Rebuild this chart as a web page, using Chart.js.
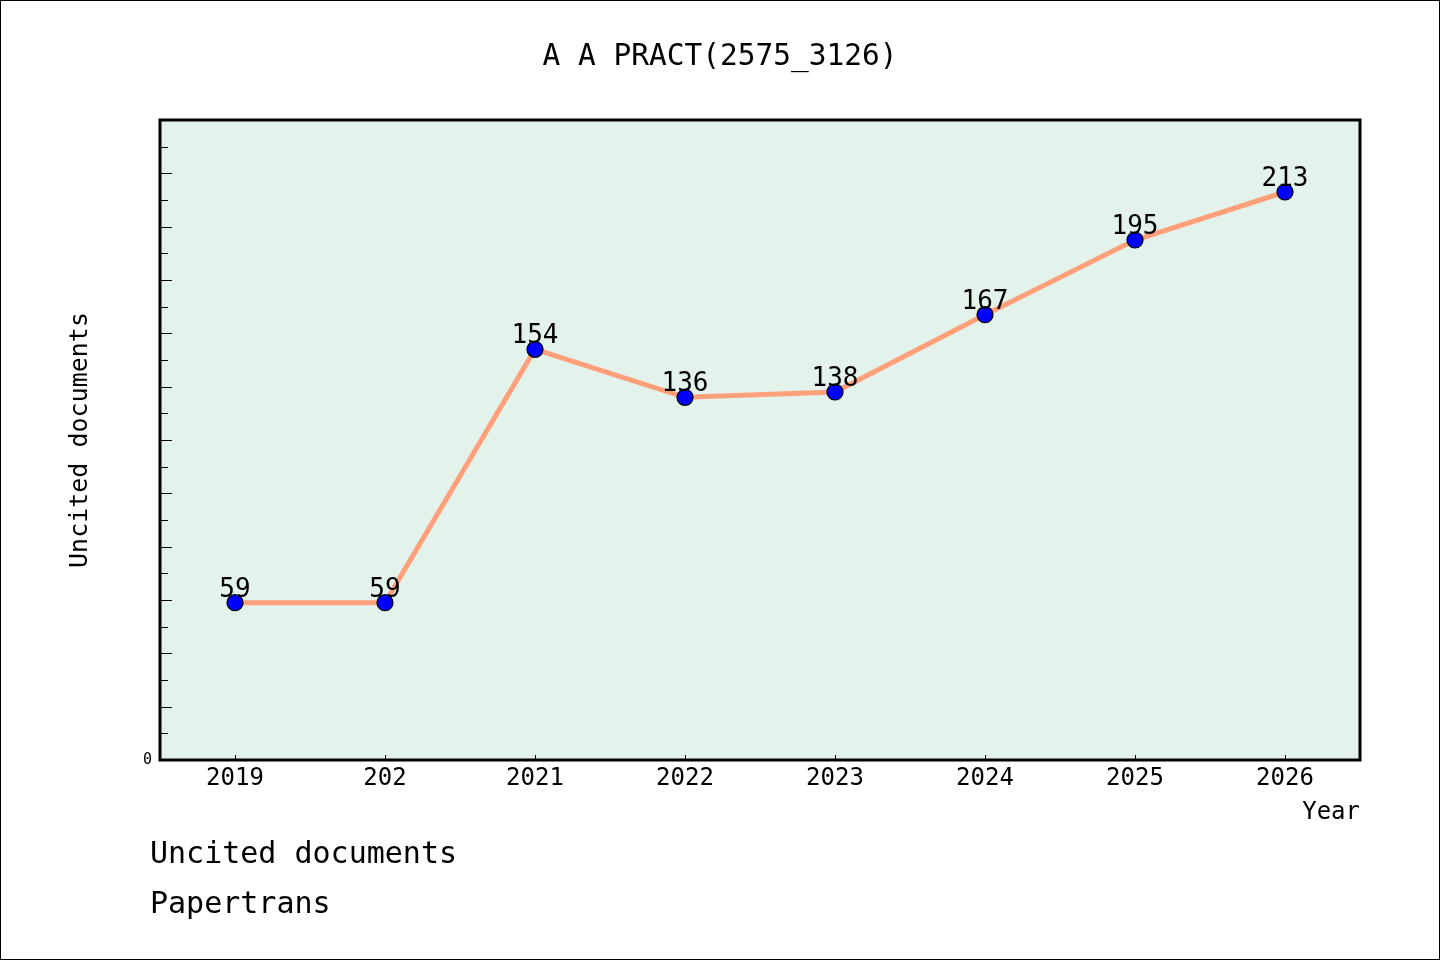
<!DOCTYPE html>
<html>
<head>
<meta charset="utf-8">
<script src="https://cdn.jsdelivr.net/npm/chart.js@4.4.1/dist/chart.umd.min.js"></script>
<style>
  html, body { margin:0; padding:0; background:#fff; }
  #wrap { position:relative; width:1440px; height:960px; }
  .note { position:absolute; left:150px; font-family:"DejaVu Sans Mono", monospace; font-size:30px; color:#000; line-height:36px; }
</style>
</head>
<body>
<div id="wrap">
  <canvas id="line-chart1" width="1440" height="960"></canvas>
  <div class="note" style="top:835px;">Uncited documents</div>
  <div class="note" style="top:885px;">Papertrans</div>
</div>
<script>
const years = ['2019', '202', '2021', '2022', '2023', '2024', '2025', '2026'];
const uncited = [59, 59, 154, 136, 138, 167, 195, 213];
const yMinorTicks = [10,20,30,40,50,60,70,80,90,100,110,120,130,140,150,160,170,180,190,200,210,220,230];

const MONO = '"DejaVu Sans Mono", monospace';

// plot background, frame, inward ticks, value labels
const decor = {
  id: 'decor',
  beforeDraw(chart) {
    const {ctx, chartArea: a} = chart;
    ctx.save();
    ctx.fillStyle = '#E3F2EB';
    ctx.fillRect(a.left, a.top, a.right - a.left, a.bottom - a.top);
    ctx.restore();
  },
  afterDatasetsDraw(chart) {
    const {ctx} = chart;
    const meta = chart.getDatasetMeta(0);
    ctx.save();
    ctx.font = '26px ' + MONO;
    ctx.fillStyle = '#000';
    ctx.textAlign = 'center';
    ctx.textBaseline = 'alphabetic';
    meta.data.forEach((pt, i) => {
      ctx.fillText(String(uncited[i]), pt.x, pt.y - 6);
    });
    ctx.restore();
  },
  afterDraw(chart) {
    const {ctx, chartArea: a} = chart;
    const ys = chart.scales.y, xs = chart.scales.x;
    ctx.save();
    ctx.strokeStyle = '#000';
    ctx.lineWidth = 1;
    ctx.beginPath();
    yMinorTicks.forEach(v => {
      const py = Math.round(ys.getPixelForValue(v)) + 0.5;
      const len = v % 20 === 0 ? 12 : 8;
      ctx.moveTo(a.left, py);
      ctx.lineTo(a.left + len, py);
    });
    years.forEach((c, i) => {
      const px = Math.round(xs.getPixelForValue(i)) + 0.5;
      ctx.moveTo(px, a.bottom);
      ctx.lineTo(px, a.bottom - 5);
    });
    ctx.stroke();
    ctx.lineWidth = 3;
    ctx.strokeRect(a.left, a.top, a.right - a.left, a.bottom - a.top);
    ctx.lineWidth = 1;
    ctx.strokeRect(0.5, 0.5, chart.width - 1, chart.height - 1);
    ctx.restore();
  }
};

let lineChart1 = document.getElementById('line-chart1');
let myLineChart1 = new Chart(lineChart1, {
  type: 'line',
  data: {
    labels: years,
    datasets: [{
      label: 'Uncited documents',
      data: uncited,
      borderColor: '#FFA07A',
      backgroundColor: '#0000FF',
      borderWidth: 5,
      pointRadius: 8,
      pointBackgroundColor: '#0000FF',
      pointBorderColor: '#000',
      pointBorderWidth: 1.2,
      tension: 0
    }]
  },
  options: {
    responsive: false,
    animation: false,
    devicePixelRatio: 1,
    layout: { padding: 0 },
    plugins: {
      legend: { display: false },
      tooltip: { enabled: false },
      title: {
        display: true,
        text: 'A A PRACT(2575_3126)',
        color: '#000',
        font: { family: MONO, size: 29.5, weight: 'normal', lineHeight: 1.2 },
        padding: { top: 40, bottom: 44.6 }
      }
    },
    scales: {
      x: {
        offset: true,
        grid: { display: false, drawTicks: false },
        border: { display: false },
        ticks: { color: '#000', font: { family: MONO, size: 24 }, padding: 4, maxRotation: 0 },
        title: {
          display: true, text: 'Year', align: 'end', color: '#000',
          font: { family: MONO, size: 24, lineHeight: 1.2 },
          padding: { top: 0, bottom: 133 }
        },
        afterFit(scale) { scale.height = 200; }
      },
      y: {
        min: 0, max: 240,
        grid: { display: false, drawTicks: false },
        border: { display: false },
        ticks: {
          stepSize: 20, color: '#000', padding: 8,
          font: { family: MONO, size: 15 },
          callback: v => (v === 0 ? '0' : '')
        },
        title: {
          display: true, text: 'Uncited documents', color: '#000',
          font: { family: MONO, size: 25, lineHeight: 1.2 },
          padding: { top: 65, bottom: 0 }
        },
        afterFit(scale) { scale.width = 160; }
      },
      yRight: {
        position: 'right',
        min: 0, max: 240,
        grid: { display: false, drawTicks: false },
        border: { display: false },
        ticks: { display: false },
        afterFit(scale) { scale.width = 80; }
      }
    }
  },
  plugins: [decor]
});
</script>
</body>
</html>
